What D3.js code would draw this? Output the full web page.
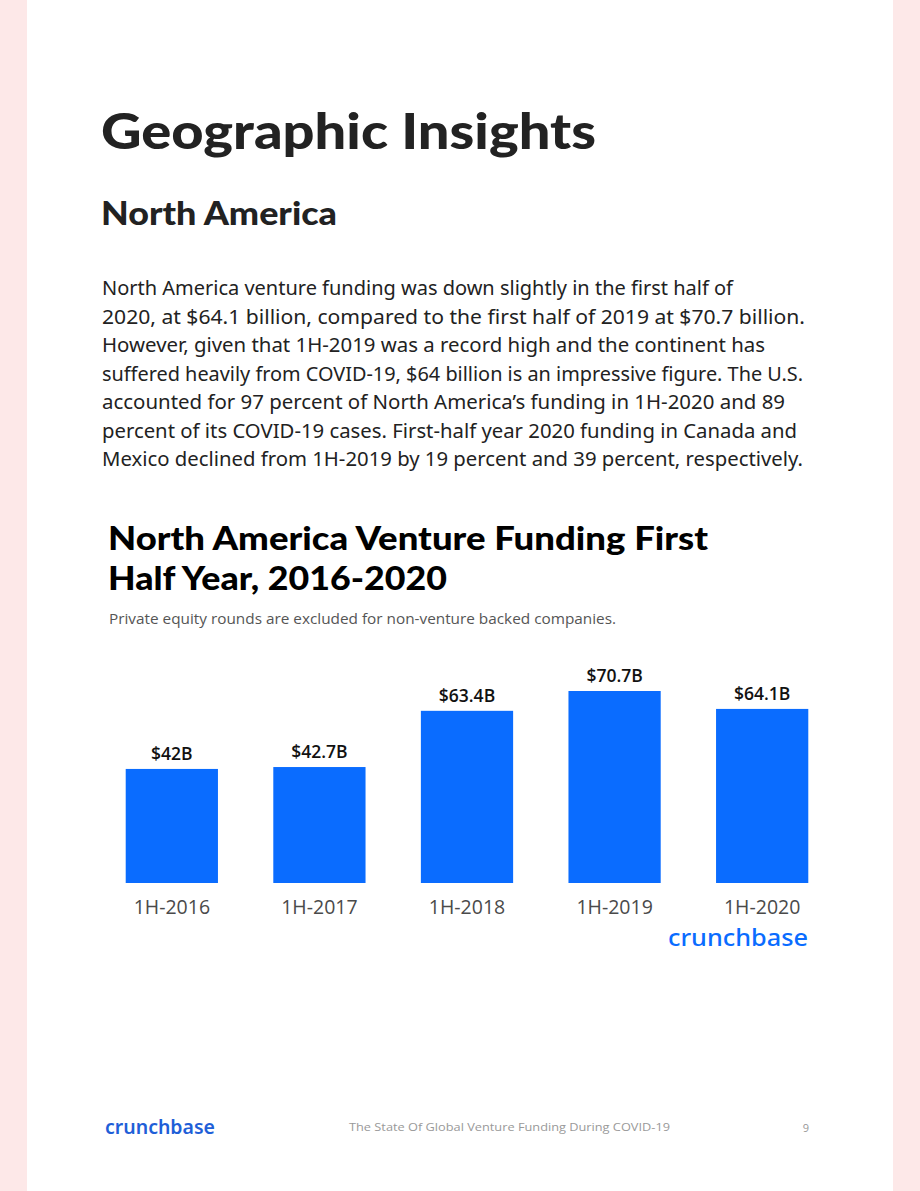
<!DOCTYPE html>
<html>
<head>
<meta charset="utf-8">
<script src="https://cdnjs.cloudflare.com/ajax/libs/d3/7.8.5/d3.min.js"></script>
<style>
  html, body { margin: 0; padding: 0; background: #fde8e8; }
  svg { display: block; }
</style>
</head>
<body>
<div id="page"></div>
<script>
// chart data
var periods = ['1H-2016', '1H-2017', '1H-2018', '1H-2019', '1H-2020'];
var funding = [42, 42.7, 63.4, 70.7, 64.1];
var fundingLabels = ['$42B', '$42.7B', '$63.4B', '$70.7B', '$64.1B'];

var paragraph = [
    'North America venture funding was down slightly in the first half of',
    '2020, at $64.1 billion, compared to the first half of 2019 at $70.7 billion.',
    'However, given that 1H-2019 was a record high and the continent has',
    'suffered heavily from COVID-19, $64 billion is an impressive figure. The U.S.',
    'accounted for 97 percent of North America\u2019s funding in 1H-2020 and 89',
    'percent of its COVID-19 cases. First-half year 2020 funding in Canada and',
    'Mexico declined from 1H-2019 by 19 percent and 39 percent, respectively.'
];
var paragraphWidths = [631, 703, 663, 701, 683, 695, 701];

var W = 920, H = 1191;
var blue = '#0a6cff';

var svg = d3.select('#page').append('svg')
    .attr('width', W)
    .attr('height', H);

svg.append('rect').attr('width', W).attr('height', H).attr('fill', '#fde8e8');
svg.append('rect').attr('x', 27).attr('width', 866).attr('height', H).attr('fill', '#fff');

function heading(txt, x, y, size, len, color) {
    return svg.append('text')
        .attr('x', x).attr('y', y)
        .style('font', '900 ' + size + 'px Lato')
        .attr('fill', color)
        .attr('textLength', len)
        .attr('lengthAdjust', 'spacingAndGlyphs')
        .text(txt);
}

heading('Geographic Insights', 101, 149, 50, 495, '#222');
heading('North America', 101, 225, 33, 236, '#222');

svg.append('g')
    .selectAll('text')
    .data(paragraph)
    .join('text')
    .attr('x', 102)
    .attr('y', (d, i) => 295 + i * 28.5)
    .style('font', '400 19.5px "Noto Sans"')
    .attr('fill', '#222')
    .attr('textLength', (d, i) => paragraphWidths[i])
    .attr('lengthAdjust', 'spacingAndGlyphs')
    .text(d => d);

// chart title block
heading('North America Venture Funding First', 108, 550, 33, 600, '#000');
heading('Half Year, 2016-2020', 108, 590, 33, 339, '#000');
svg.append('text')
    .attr('x', 109).attr('y', 624)
    .style('font', '400 15px "Open Sans"')
    .attr('fill', '#555')
    .attr('textLength', 507)
    .attr('lengthAdjust', 'spacingAndGlyphs')
    .text('Private equity rounds are excluded for non-venture backed companies.');

// bars
var x = d3.scaleBand()
    .domain(periods)
    .range([108, 826])
    .paddingInner(0.375)
    .paddingOuter(0.12);

var y = d3.scaleLinear()
    .domain([0, 70.7])
    .range([883, 691]);

var chart = svg.append('g');

chart.selectAll('rect.bar')
    .data(periods)
    .join('rect')
    .attr('class', 'bar')
    .attr('x', d => x(d))
    .attr('width', x.bandwidth())
    .attr('y', (d, i) => y(funding[i]))
    .attr('height', (d, i) => y(0) - y(funding[i]))
    .attr('fill', blue);

chart.selectAll('text.val')
    .data(periods)
    .join('text')
    .attr('class', 'val')
    .attr('x', d => x(d) + x.bandwidth() / 2)
    .attr('y', (d, i) => y(funding[i]) - 9)
    .attr('text-anchor', 'middle')
    .style('font', '600 17.5px "Open Sans"')
    .attr('fill', '#111')
    .text((d, i) => fundingLabels[i]);

var xAxis = d3.axisBottom(x).tickSize(0).tickPadding(17);
chart.append('g')
    .attr('transform', 'translate(0,' + y(0) + ')')
    .call(xAxis)
    .call(g => g.select('.domain').remove())
    .selectAll('text')
    .style('font', '400 19.5px "Open Sans"')
    .attr('fill', '#4a4a4a');

svg.append('text')
    .attr('x', 668).attr('y', 946)
    .style('font', '500 23px "Noto Sans"')
    .attr('fill', blue)
    .attr('textLength', 140)
    .attr('lengthAdjust', 'spacingAndGlyphs')
    .text('crunchbase');

// footer
svg.append('text')
    .attr('x', 105).attr('y', 1134)
    .style('font', '600 20px "Noto Sans"')
    .attr('fill', '#1f5fd8')
    .attr('textLength', 110)
    .attr('lengthAdjust', 'spacingAndGlyphs')
    .text('crunchbase');
svg.append('text')
    .attr('x', 349).attr('y', 1131)
    .style('font', '400 11.5px "Open Sans"')
    .attr('fill', '#999')
    .attr('textLength', 321)
    .attr('lengthAdjust', 'spacingAndGlyphs')
    .text('The State Of Global Venture Funding During COVID-19');
svg.append('text')
    .attr('x', 809).attr('y', 1132)
    .attr('text-anchor', 'end')
    .style('font', '400 11px "Open Sans"')
    .attr('fill', '#999')
    .text('9');
</script>
</body>
</html>
